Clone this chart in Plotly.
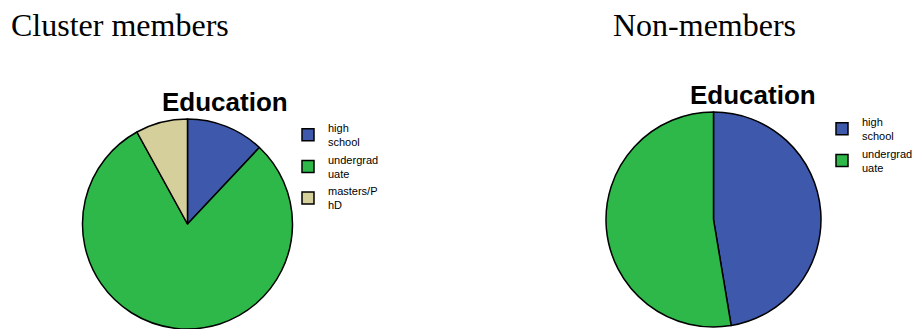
import plotly.graph_objects as go

# Education breakdown, two groups
labels_members = ["high<br>school", "undergrad<br>uate", "masters/P<br>hD"]
values_members = [3, 20, 2]

labels_non = ["high<br>school", "undergrad<br>uate"]
values_non = [9, 10]

group_titles = ["Cluster members", "Non-members"]
chart_title = "Education"

colors = {"high<br>school": "#3E58AC", "undergrad<br>uate": "#2EB84A", "masters/P<br>hD": "#D5CF9B"}

W, H = 921, 329

fig = go.Figure()

fig.add_trace(go.Pie(
    labels=labels_members, values=values_members,
    marker=dict(colors=[colors[l] for l in labels_members], line=dict(color="black", width=1.5)),
    textinfo="none", sort=False, direction="clockwise", rotation=0,
    domain=dict(x=[82 / W, 293 / W], y=[0, 210 / H]),
    legend="legend", hoverinfo="label+percent",
))

# zero-width suffix keeps the second pie's legend entries separate from the first's
fig.add_trace(go.Pie(
    labels=[l + "\u200b" for l in labels_non], values=values_non,
    marker=dict(colors=[colors[l] for l in labels_non], line=dict(color="black", width=1.5)),
    textinfo="none", sort=False, direction="clockwise", rotation=0,
    domain=dict(x=[606 / W, 821 / W], y=[2 / H, 217 / H]),
    legend="legend2", hoverinfo="label+percent",
))

legend_style = dict(
    font=dict(family="Liberation Sans, Arial", size=11, color="black"),
    bgcolor="rgba(0,0,0,0)", xanchor="left", yanchor="top",
    itemclick=False, itemdoubleclick=False, tracegroupgap=0,
)

annotations = [
    dict(text=group_titles[0], x=9 / W, y=1 - 25 / H, xanchor="left", yanchor="middle",
         showarrow=False, font=dict(family="Liberation Serif, Times New Roman", size=32, color="black")),
    dict(text=group_titles[1], x=611 / W, y=1 - 25 / H, xanchor="left", yanchor="middle",
         showarrow=False, font=dict(family="Liberation Serif, Times New Roman", size=32, color="black")),
    dict(text="<b>" + chart_title + "</b>", x=225 / W, y=1 - 102 / H, xanchor="center", yanchor="middle",
         showarrow=False, font=dict(family="Liberation Sans, Arial", size=26, color="black")),
    dict(text="<b>" + chart_title + "</b>", x=753 / W, y=1 - 95 / H, xanchor="center", yanchor="middle",
         showarrow=False, font=dict(family="Liberation Sans, Arial", size=26, color="black")),
]

fig.update_layout(
    width=W, height=H,
    margin=dict(l=0, r=0, t=0, b=0),
    paper_bgcolor="white", plot_bgcolor="white",
    showlegend=True,
    legend=dict(x=288 / W, y=1 - 114 / H, **legend_style),
    legend2=dict(x=822 / W, y=1 - 108 / H, **legend_style),
    annotations=annotations,
)

fig.write_html("out.html")
